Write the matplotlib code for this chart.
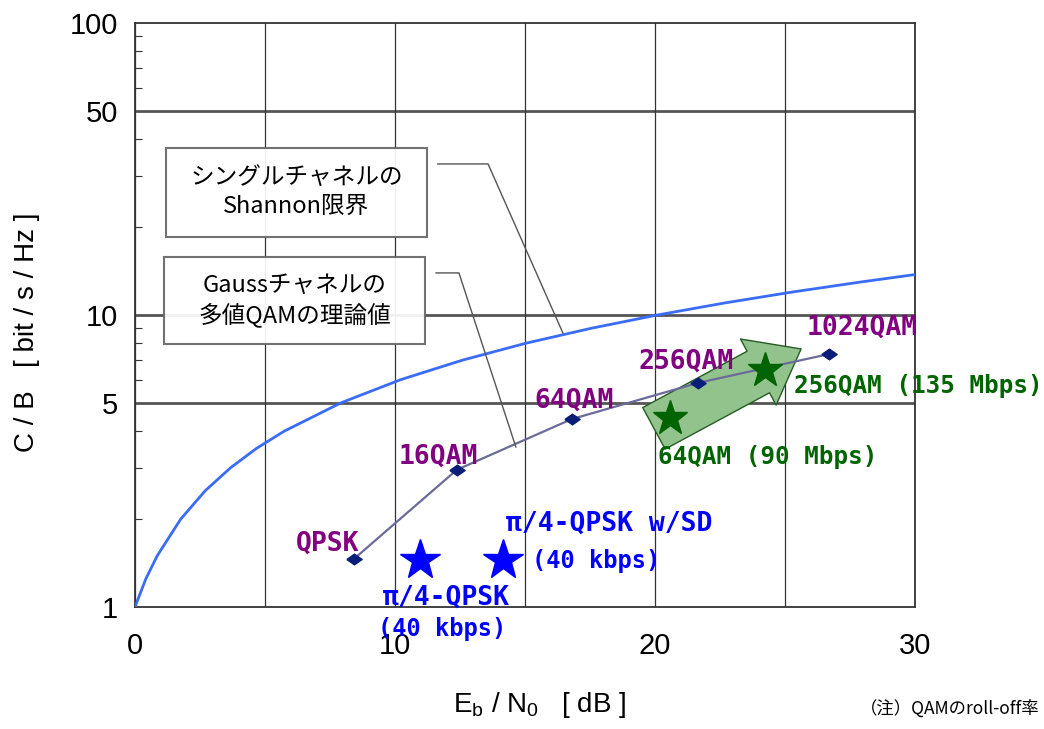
import matplotlib.pyplot as plt
from matplotlib.patches import Rectangle
from matplotlib.ticker import LogLocator, NullFormatter
import numpy as np

plt.rcParams['font.family'] = ['Liberation Sans', 'Noto Sans CJK JP']
plt.rcParams['mathtext.default'] = 'regular'

# Shannon limit for a single channel (Eb/N0 [dB] vs C/B)
shannon_ebn0 = [0.0, 0.42, 0.86, 1.76, 2.70, 3.68, 4.69, 5.74, 7.92, 10.21,
                12.59, 15.03, 17.54, 20.10, 22.70, 25.33, 28.0, 30.0]
shannon_cb = [1.0, 1.25, 1.5, 2.0, 2.5, 3.0, 3.5, 4.0, 5.0, 6.0,
              7.0, 8.0, 9.0, 10.0, 11.0, 12.0, 13.0, 13.75]

# multi-level QAM on a Gaussian channel
qam_names = ['QPSK', '16QAM', '64QAM', '256QAM', '1024QAM']
qam_ebn0 = [8.42, 12.38, 16.8, 21.65, 26.7]
qam_cb = [1.46, 2.95, 4.4, 5.85, 7.35]

# pi/4-QPSK systems (40 kbps)
pi4_ebn0 = [10.96, 14.15]
pi4_cb = [1.45, 1.45]

# QAM systems (90 / 135 Mbps)
mqam_ebn0 = [20.58, 24.23]
mqam_cb = [4.44, 6.48]

fig = plt.figure(figsize=(10.44, 7.29), dpi=100)
ax = fig.add_axes([0.1293, 0.1674, 0.7471, 0.8011])

ax.set_yscale('log')
ax.set_xlim(0, 30)
ax.set_ylim(1, 100)

ax.set_xticks(range(0, 31, 5))
ax.set_xticklabels(['0', '', '10', '', '20', '', '30'])
ax.set_yticks([1, 5, 10, 50, 100])
ax.set_yticklabels(['1', '5', '10', '50', '100'])
ax.yaxis.set_minor_locator(LogLocator(base=10, subs=np.arange(2, 10)))
ax.yaxis.set_minor_formatter(NullFormatter())
ax.tick_params(axis='both', which='major', length=0, labelsize=21)
ax.tick_params(axis='x', which='major', pad=18)
ax.tick_params(axis='y', which='major', pad=12)
ax.tick_params(axis='y', which='minor', direction='in', length=5, width=0.8,
               color='#333333')

ax.grid(axis='x', which='major', color='#333333', linewidth=0.9)
for v in [5, 10, 50]:
    ax.axhline(v, color='#555555', linewidth=2.0, zorder=1)
for s in ax.spines.values():
    s.set_color('#333333')
    s.set_linewidth(1.3)

ax.set_xlabel(r'E$_b$ / N$_0$   [ dB ]', fontsize=20, va='center')
ax.set_ylabel('C / B   [ bit / s / Hz ]', fontsize=20, va='center')
ax.xaxis.set_label_coords(0.519, -0.168)
ax.yaxis.set_label_coords(-0.138, 0.471)

# curves
ax.plot(shannon_ebn0, shannon_cb, color='#3a6cf4', linewidth=2.0, zorder=3)

# arrow from 64QAM system to 256QAM system
ax.annotate('', xy=(25.62, 7.65), xytext=(19.96, 4.09),
            arrowprops=dict(arrowstyle='simple,head_width=2.7,head_length=1.75,tail_width=1.7',
                            mutation_scale=20, facecolor='#93c38c',
                            edgecolor='#245c24', linewidth=1.0, shrinkA=0, shrinkB=0),
            zorder=2)

diamond = [(-1, 0), (0, 0.7), (1, 0), (0, -0.7), (-1, 0)]
ax.plot(qam_ebn0, qam_cb, color='#6b6b9a', linewidth=1.6, marker=diamond,
        markersize=11, markerfacecolor='#0a1e78', markeredgecolor='#0a1e78',
        zorder=4)

ax.plot(pi4_ebn0, pi4_cb, linestyle='none', marker='*', markersize=30,
        color='#0000ff', zorder=5)
ax.plot(mqam_ebn0, mqam_cb, linestyle='none', marker='*', markersize=26,
        color='#006400', zorder=5)

mono = dict(family='DejaVu Sans Mono', fontweight='bold')

qam_offsets = [(4, 11, 'right'), (-13, 9.5, 'center'), (1.5, 13.5, 'center'),
               (-8.5, 15, 'center'), (24, 19, 'center')]
for name, x, y, (dx, dy, ha) in zip(qam_names, qam_ebn0, qam_cb, qam_offsets):
    ax.annotate(name, (x, y), xytext=(dx, dy), textcoords='offset points',
                ha=ha, va='center', color='#800080', fontsize=19, zorder=6,
                **mono)

ax.annotate('π/4-QPSK', (pi4_ebn0[0], pi4_cb[0]), xytext=(19, -27),
            textcoords='offset points', ha='center', va='center',
            color='#0000ff', fontsize=19, zorder=6, **mono)
ax.annotate('(40 kbps)', (pi4_ebn0[0], pi4_cb[0]), xytext=(16, -50),
            textcoords='offset points', ha='center', va='center',
            color='#0000ff', fontsize=17, zorder=6, **mono)
ax.annotate('π/4-QPSK w/SD', (pi4_ebn0[1], pi4_cb[1]), xytext=(2, 26),
            textcoords='offset points', ha='left', va='center',
            color='#0000ff', fontsize=19, zorder=6, **mono)
ax.annotate('(40 kbps)', (pi4_ebn0[1], pi4_cb[1]), xytext=(21, -1),
            textcoords='offset points', ha='left', va='center',
            color='#0000ff', fontsize=17, zorder=6, **mono)

ax.annotate('64QAM (90 Mbps)', (mqam_ebn0[0], mqam_cb[0]), xytext=(-9, -28),
            textcoords='offset points', ha='left', va='center',
            color='#006400', fontsize=17.5, zorder=6, **mono)
ax.annotate('256QAM (135 Mbps)', (mqam_ebn0[1], mqam_cb[1]), xytext=(21, -11.5),
            textcoords='offset points', ha='left', va='center',
            color='#006400', fontsize=17.5, zorder=6, **mono)

# callout boxes
boxes = [((0.0397, 0.6336), 0.3347, 0.1524, 'シングルチャネルの\nShannon限界'),
         ((0.0372, 0.4503), 0.3346, 0.1490, 'Gaussチャネルの\n多値QAMの理論値')]
for (bx, by), bw, bh, txt in boxes:
    ax.add_patch(Rectangle((bx, by), bw, bh, transform=ax.transAxes,
                           facecolor='white', edgecolor='#666666',
                           linewidth=1.5, alpha=0.92, zorder=7))
    ax.text(bx + bw / 2, by + bh / 2, txt, transform=ax.transAxes,
            ha='center', va='center', linespacing=1.3, zorder=8,
            family=['Noto Sans CJK JP'], fontsize=17, color='black')

# leader lines
ax.plot([11.65, 13.58, 16.46], [32.9, 32.9, 8.67], color='#555555',
        linewidth=1.0, zorder=6)
ax.plot([11.58, 12.46, 14.65], [13.93, 13.93, 3.53], color='#555555',
        linewidth=1.0, zorder=6)

fig.text(0.996, 0.015, '（注）QAMのroll-off率', ha='right', va='bottom',
         fontsize=12.5, family=['Noto Sans CJK JP'])

fig.savefig('out.png', dpi=100)
